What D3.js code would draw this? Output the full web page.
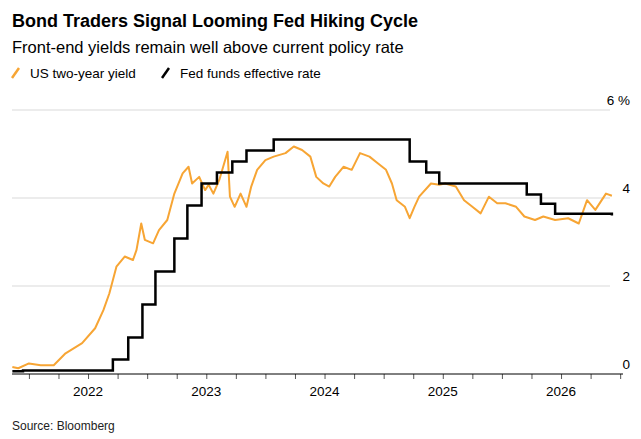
<!DOCTYPE html>
<html><head><meta charset="utf-8">
<script src="https://cdn.jsdelivr.net/npm/d3@7"></script>
<style>body{margin:0;background:#fff;font-family:"Liberation Sans",Arial,sans-serif}</style>
</head><body><svg id="ch" width="641" height="439"></svg>
<script>
// decimal years
const yieldT = [2021.36,2021.41,2021.5,2021.6,2021.71,2021.81,2021.95,2022.06,2022.13,2022.18,2022.24,2022.31,2022.38,2022.41,2022.45,2022.48,2022.55,2022.6,2022.67,2022.73,2022.8,2022.85,2022.88,2022.94,2022.99,2023.02,2023.06,2023.11,2023.18,2023.2,2023.24,2023.29,2023.34,2023.38,2023.43,2023.5,2023.57,2023.67,2023.74,2023.81,2023.88,2023.93,2023.99,2024.04,2024.09,2024.16,2024.23,2024.3,2024.38,2024.45,2024.52,2024.57,2024.61,2024.68,2024.72,2024.76,2024.8,2024.9,2024.97,2025.02,2025.11,2025.18,2025.25,2025.32,2025.39,2025.46,2025.53,2025.62,2025.69,2025.78,2025.85,2025.95,2026.06,2026.15,2026.22,2026.29,2026.38,2026.43];
const yieldV = [0.16,0.13,0.24,0.2,0.2,0.47,0.7,1.04,1.45,1.83,2.44,2.67,2.59,2.82,3.42,3.05,2.97,3.27,3.5,4.1,4.56,4.71,4.33,4.48,4.18,4.3,4.1,4.41,5.05,4.03,3.8,4.1,3.8,4.26,4.64,4.86,4.94,5.02,5.17,5.09,4.94,4.48,4.33,4.26,4.48,4.71,4.64,5.02,4.94,4.79,4.64,4.33,3.95,3.8,3.54,3.8,4.03,4.33,4.3,4.33,4.26,3.95,3.8,3.65,4.03,3.88,3.88,3.8,3.58,3.5,3.58,3.5,3.54,3.42,3.95,3.73,4.1,4.05];
const fedT = [2021.36,2021.45,2022.21,2022.34,2022.46,2022.57,2022.73,2022.84,2022.96,2023.09,2023.22,2023.34,2023.57,2024.72,2024.86,2024.97,2025.71,2025.83,2025.95,2026.43];
const fedV = [0.06,0.08,0.33,0.83,1.58,2.33,3.08,3.83,4.33,4.58,4.83,5.08,5.33,4.83,4.58,4.33,4.08,3.87,3.64,3.6];
const yTicks = [0,2,4,6];
const xYears = [2022,2023,2024,2025,2026];

const svg = d3.select("#ch");
const x = d3.scaleLinear().domain([2021.357,2026.524]).range([12,623]);
const y = d3.scaleLinear().domain([0,6]).range([374,110]);

svg.append("text").attr("x",12).attr("y",27).attr("font-size",18).attr("font-weight","bold").attr("fill","#000").text("Bond Traders Signal Looming Fed Hiking Cycle");
svg.append("text").attr("x",12).attr("y",53).attr("font-size",16.5).attr("fill","#000").text("Front-end yields remain well above current policy rate");
const leg = [["US two-year yield","#f7a534",12],["Fed funds effective rate","#000",162]];
leg.forEach(l=>{
  svg.append("line").attr("x1",l[2]).attr("x2",l[2]+7).attr("y1",78).attr("y2",68).attr("stroke",l[1]).attr("stroke-width",2.5);
  svg.append("text").attr("x",l[2]+18).attr("y",78).attr("font-size",13.5).text(l[0]);
});

yTicks.forEach(t=>{
  if(t>0) svg.append("line").attr("x1",12).attr("x2",610).attr("y1",y(t)).attr("y2",y(t)).attr("stroke","#d9d9d9");
  svg.append("text").attr("x",630).attr("y",y(t)-5).attr("text-anchor","end").attr("font-size",13.5).text(t===6?"6 %":t);
});

const xa = svg.append("g").attr("transform","translate(0,374)")
  .call(d3.axisBottom(x).tickValues(d3.range(2021.5,2026.6,0.25)).tickSize(5).tickFormat(""));
xa.select(".domain").remove();
xa.selectAll("line").attr("stroke","#555");
svg.append("line").attr("x1",12).attr("x2",623).attr("y1",374).attr("y2",374).attr("stroke","#000");
xYears.forEach(t=>svg.append("text").attr("x",x(t)).attr("y",396).attr("text-anchor","middle").attr("font-size",13.5).text(t));

const yline = d3.line().x(d=>x(d[0])).y(d=>y(d[1]));
svg.append("path").attr("d",yline(yieldT.map((t,i)=>[t,yieldV[i]]))).attr("fill","none").attr("stroke","#f7a534").attr("stroke-width",2).attr("stroke-linejoin","round");
svg.append("path").attr("d",yline.curve(d3.curveStepAfter)(fedT.map((t,i)=>[t,fedV[i]]))).attr("fill","none").attr("stroke","#000").attr("stroke-width",2.5);

svg.append("text").attr("x",12).attr("y",430).attr("font-size",12).attr("fill","#222").text("Source: Bloomberg");
</script></body></html>
